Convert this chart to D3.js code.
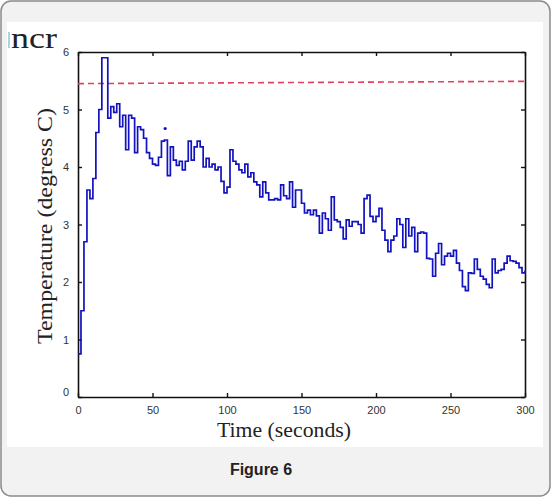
<!DOCTYPE html>
<html>
<head>
<meta charset="utf-8">
<script src="https://cdn.jsdelivr.net/npm/d3@7"></script>
<style>
  body { margin: 0; background: #fff; }
  svg { display: block; }
</style>
</head>
<body>
<div id="chart"></div>
<script>
// temperature read every 2 seconds, 0..300 s
const stepSec = 2;
const temps = [
  0.75, 1.5, 2.7, 3.6, 3.45, 3.8, 4.6, 5.0, 5.9, 5.9,
  4.85, 5.05, 4.95, 5.1, 4.7, 4.9, 4.3, 4.9, 4.85, 4.25,
  4.7, 4.65, 4.5, 4.25, 4.15, 4.05, 4.03, 4.17, 4.45, 4.47,
  3.85, 4.35, 4.12, 4.03, 4.1, 3.95, 4.1, 4.45, 4.12, 4.35,
  4.45, 4.35, 4.0, 4.15, 4.0, 4.05, 3.95, 4.0, 3.75, 3.55,
  3.65, 4.3, 4.1, 4.05, 3.95, 3.9, 4.05, 3.83, 3.9, 3.74,
  3.69, 3.48, 3.74, 3.55, 3.43, 3.43, 3.45, 3.43, 3.69, 3.5,
  3.45, 3.74, 3.3, 3.6, 3.6, 3.37, 3.2, 3.25, 3.17, 3.25,
  3.15, 2.85, 3.2, 3.1, 2.9, 3.48, 3.08, 3.05, 2.95, 2.75,
  3.08, 2.97, 3.05, 3.05, 3.0, 2.85, 3.45, 3.51, 3.14, 3.05,
  3.14, 3.28, 2.9, 2.73, 2.53, 2.73, 2.8, 3.1, 3.0, 2.6,
  3.1, 2.8, 2.95, 2.53, 2.85, 2.87, 2.85, 2.41, 2.4, 2.1,
  2.5, 2.67, 2.3, 2.45, 2.5, 2.45, 2.55, 2.33, 2.2, 1.92,
  1.85, 2.16, 2.15, 2.4, 2.22, 2.1, 2.05, 1.96, 1.9, 2.4,
  2.16, 2.2, 2.22, 2.33, 2.45, 2.37, 2.36, 2.33, 2.25, 2.16,
  2.2
];

// red dashed reference line
const refT = [0, 300];
const refV = [5.45, 5.49];

// lone marker above the trace
const strayT = [58.5];
const strayV = [4.67];

const xTicks = [0, 50, 100, 150, 200, 250, 300];
const yTicks = [0, 1, 2, 3, 4, 5, 6];

const W = 551, H = 498;
const margin = {top: 52, right: 26, bottom: 101, left: 78};
const width = W - margin.left - margin.right,
      height = H - margin.top - margin.bottom;

const root = d3.select("#chart")
  .append("svg")
  .attr("width", W)
  .attr("height", H);

// outer page frame
root.append("rect")
  .attr("x", 1).attr("y", 1)
  .attr("width", W - 2).attr("height", H - 3)
  .attr("rx", 10)
  .attr("fill", "#f2f2f2")
  .attr("stroke", "#8a8a8a")
  .attr("stroke-width", 1.5);

// white figure area
root.append("rect")
  .attr("x", 7).attr("y", 22)
  .attr("width", 536).attr("height", 425)
  .attr("fill", "#fff");

// clipped title fragment
root.append("rect")
  .attr("x", 8).attr("y", 32)
  .attr("width", 2).attr("height", 16)
  .attr("fill", "#a8d4e6");
root.append("text")
  .attr("x", 11).attr("y", 48)
  .attr("font-family", "Liberation Serif, serif")
  .attr("font-size", 30)
  .attr("textLength", 46)
  .attr("lengthAdjust", "spacingAndGlyphs")
  .attr("fill", "#222")
  .text("ncr");

const svg = root.append("g")
  .attr("transform", `translate(${margin.left},${margin.top})`);

const x = d3.scaleLinear().domain([0, 300]).range([0, width]);
const y = d3.scaleLinear().domain([0, 6]).range([height, 0]);

// axes, ticks pointing inward like MATLAB
const tickFont = "Liberation Sans, Arial, sans-serif";

const xAxis = svg.append("g")
  .attr("transform", `translate(0,${height})`)
  .call(d3.axisBottom(x).tickValues(xTicks).tickFormat(d3.format("d"))
    .tickSizeInner(-4).tickSizeOuter(0).tickPadding(9));
const yAxis = svg.append("g")
  .call(d3.axisLeft(y).tickValues(yTicks).tickFormat(d3.format("d"))
    .tickSizeInner(-4).tickSizeOuter(0).tickPadding(9));
const xTop = svg.append("g")
  .call(d3.axisTop(x).tickValues(xTicks).tickSizeInner(-4).tickSizeOuter(0).tickFormat(""));
const yRight = svg.append("g")
  .attr("transform", `translate(${width},0)`)
  .call(d3.axisRight(y).tickValues(yTicks).tickSizeInner(-4).tickSizeOuter(0).tickFormat(""));

[xAxis, yAxis, xTop, yRight].forEach(function(g) {
  g.select(".domain").attr("stroke", "#111").attr("stroke-width", 1.6);
  g.selectAll(".tick line").attr("stroke", "#111").attr("stroke-width", 1.4);
  g.selectAll(".tick text")
    .attr("font-family", tickFont)
    .attr("font-size", 11)
    .attr("fill", "#333");
});
yAxis.selectAll(".tick text").filter(d => d === 0).attr("dy", "-0.1em");

// dashed reference
svg.append("path")
  .datum(refT.map((t, i) => [t, refV[i]]))
  .attr("d", d3.line().x(d => x(d[0])).y(d => y(d[1])))
  .attr("fill", "none")
  .attr("stroke", "#e0405e")
  .attr("stroke-width", 1.6)
  .attr("stroke-dasharray", "6,4");

// temperature trace
svg.append("path")
  .datum(temps)
  .attr("d", d3.line()
    .curve(d3.curveStepAfter)
    .x((d, i) => x(i * stepSec))
    .y(d => y(d)))
  .attr("fill", "none")
  .attr("stroke", "#1212bf")
  .attr("stroke-width", 1.7);

svg.selectAll(".stray")
  .data(strayT)
  .join("circle")
  .attr("class", "stray")
  .attr("cx", d => x(d))
  .attr("cy", (d, i) => y(strayV[i]))
  .attr("r", 1.6)
  .attr("fill", "#1212bf");

// axis titles
svg.append("text")
  .attr("x", 206)
  .attr("y", height + 40)
  .attr("text-anchor", "middle")
  .attr("font-family", "Liberation Serif, serif")
  .attr("font-size", 21)
  .attr("textLength", 134)
  .attr("lengthAdjust", "spacingAndGlyphs")
  .attr("fill", "#222")
  .text("Time (seconds)");

svg.append("text")
  .attr("transform", `translate(-26,${226 - margin.top}) rotate(-90)`)
  .attr("text-anchor", "middle")
  .attr("font-family", "Liberation Serif, serif")
  .attr("font-size", 20)
  .attr("textLength", 236)
  .attr("lengthAdjust", "spacingAndGlyphs")
  .attr("fill", "#222")
  .text("Temperature (degress C)");

// caption
root.append("text")
  .attr("x", 261)
  .attr("y", 475)
  .attr("text-anchor", "middle")
  .attr("font-family", "Liberation Sans, Arial, sans-serif")
  .attr("font-weight", "bold")
  .attr("font-size", 16)
  .attr("fill", "#222")
  .text("Figure 6");
</script>
</body>
</html>
